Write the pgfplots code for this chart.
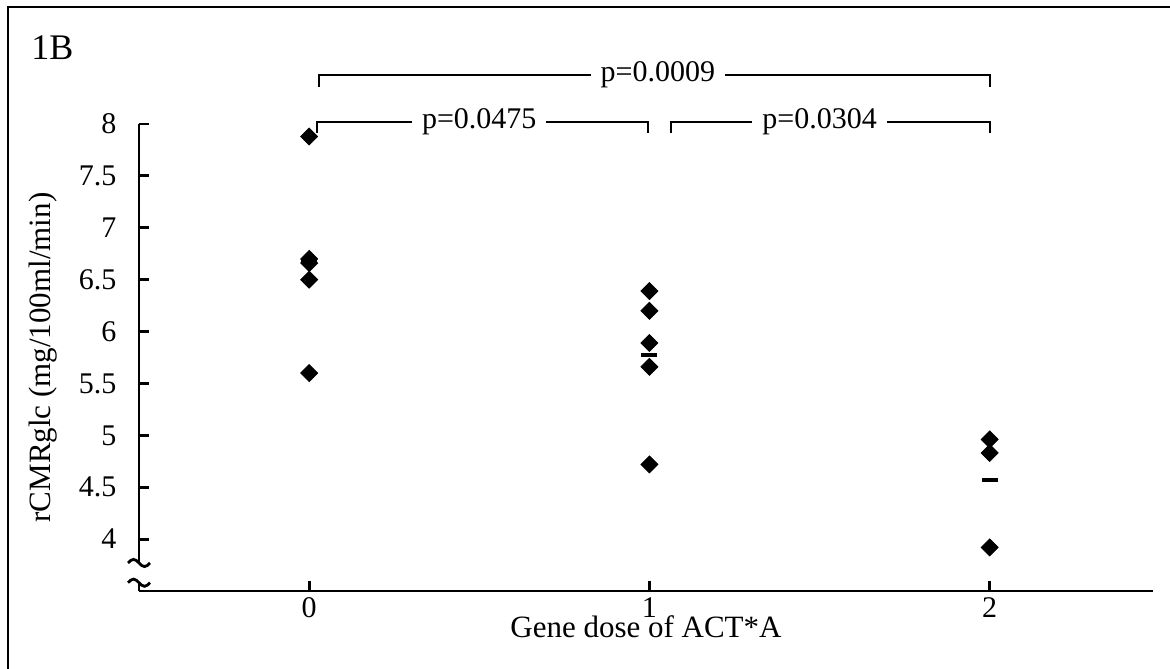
\documentclass[border=0pt]{standalone}
\usepackage{fontspec}
\setmainfont{Liberation Serif}
\usepackage{pgfplots}
\pgfplotsset{compat=1.18}
\begin{document}
\begin{tikzpicture}
\path[use as bounding box] (-69.5pt,-38.5pt) rectangle (515.5pt,295.5pt);
% outer frame (only top and left edges are visible)
\draw[line width=0.8pt] (-65.5pt,-45pt) -- (-65.5pt,292pt) -- (520pt,292pt);
\node[anchor=base west, inner sep=0pt, font=\fontsize{18}{20}\selectfont] at (-54pt,265.5pt) {1B};
\begin{axis}[
  at={(0,0)}, anchor=south west,
  width=507pt, height=233.5pt, scale only axis,
  xmin=-0.5, xmax=2.48, ymin=3.5, ymax=8,
  axis x line=bottom, axis y line=left,
  axis line style={-, line width=1.4pt},
  y axis line style={draw=none},
  clip=false,
  tick align=inside, major tick length=5pt,
  tick style={black, line width=1.4pt},
  xtick={0,1,2},
  ytick={4,4.5,5,5.5,6,6.5,7,7.5,8},
  ticklabel style={font=\fontsize{15}{18}\selectfont},
  /pgf/number format/assume math mode=true,
  yticklabel style={xshift=-7.8pt},
  xticklabel style={inner sep=0pt, anchor=north, yshift=-3pt},
  xlabel={Gene dose of ACT*A},
  ylabel={rCMRglc (mg/100ml/min)},
  label style={font=\fontsize{15.5}{18}\selectfont},
  xlabel style={at={(axis description cs:0.5,0)}, anchor=base, inner sep=0pt, yshift=-23pt},
  ylabel style={at={(axis description cs:-0.0947,0.5)}, anchor=center},
]
% group means
\addplot[black, only marks, mark=-, mark size=4pt, mark options={line width=2pt}]
  coordinates {(0,6.67)(1,5.77)(2,4.57)};
% individual values
\addplot[black, only marks, mark=square*, mark size=3pt,
  mark options={rotate=45, fill=black, draw=black}]
  coordinates {
  (0,7.88)(0,6.70)(0,6.66)(0,6.50)(0,5.60)
  (1,6.39)(1,6.20)(1,5.89)(1,5.66)(1,4.72)
  (2,4.96)(2,4.83)(2,3.92)};

% broken y axis
\draw[line width=1.4pt] (axis cs:-0.5,8) -- (axis cs:-0.5,3.77);
\draw[line width=1.4pt] (axis cs:-0.5,3.58) -- (axis cs:-0.5,3.5);
\draw[line width=1.4pt] ([xshift=-5.5pt]axis cs:-0.5,3.77) sin ++(2.75pt,1.8pt) cos ++(2.75pt,-1.8pt) sin ++(2.75pt,-1.8pt) cos ++(2.75pt,1.8pt);
\draw[line width=1.4pt] ([xshift=-5.5pt]axis cs:-0.5,3.58) sin ++(2.75pt,1.8pt) cos ++(2.75pt,-1.8pt) sin ++(2.75pt,-1.8pt) cos ++(2.75pt,1.8pt);

% significance brackets
\draw[line width=0.9pt] (axis cs:0.03,8.356) |- (axis cs:2.0,8.472) -- (axis cs:2.0,8.356);
\node[fill=white, inner xsep=5pt, anchor=base, yshift=-3.2pt, font=\fontsize{15}{18}\selectfont] at (axis cs:1.025,8.472) {p=0.0009};
\draw[line width=0.9pt] (axis cs:0.024,7.913) |- (axis cs:0.996,8.019) -- (axis cs:0.996,7.913);
\node[fill=white, inner xsep=5pt, anchor=base, yshift=-3.2pt, font=\fontsize{15}{18}\selectfont] at (axis cs:0.5,8.019) {p=0.0475};
\draw[line width=0.9pt] (axis cs:1.063,7.913) |- (axis cs:2.0,8.019) -- (axis cs:2.0,7.913);
\node[fill=white, inner xsep=5pt, anchor=base, yshift=-3.2pt, font=\fontsize{15}{18}\selectfont] at (axis cs:1.5,8.019) {p=0.0304};
\end{axis}
\end{tikzpicture}
\end{document}
